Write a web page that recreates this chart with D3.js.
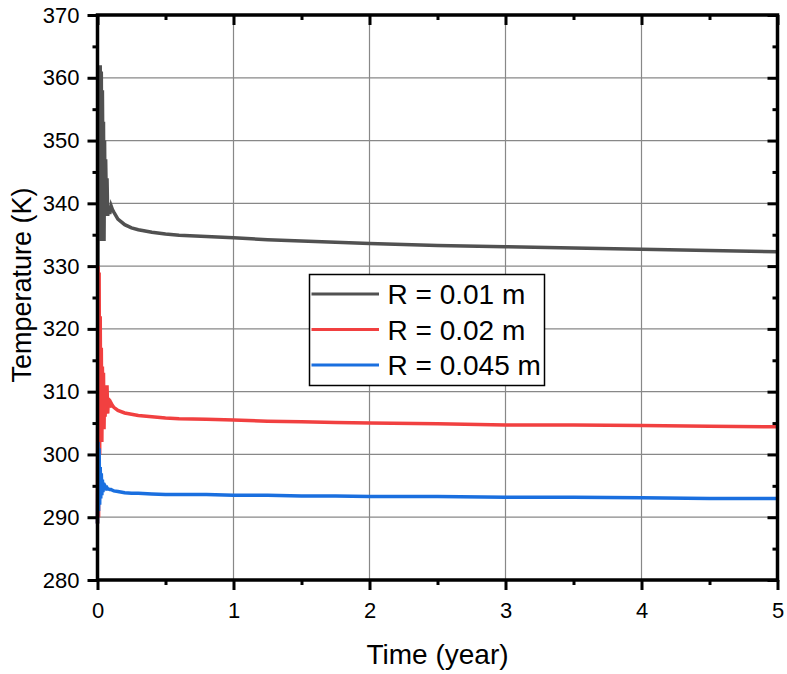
<!DOCTYPE html>
<html>
<head>
<meta charset="utf-8">
<script src="https://cdn.jsdelivr.net/npm/d3@7"></script>
<style>
  body { margin: 0; background: #fff; }
  text { font-family: "Liberation Sans", Arial, sans-serif; fill: #000; }
</style>
</head>
<body>
<div id="chart"></div>
<script>
// time in years
var times = [0, 0.004, 0.008, 0.012, 0.016, 0.02, 0.024, 0.028, 0.032, 0.036,
  0.04, 0.044, 0.048, 0.052, 0.056, 0.06, 0.065, 0.07, 0.075, 0.08,
  0.09, 0.1, 0.11, 0.12, 0.15, 0.2, 0.25, 0.3, 0.4, 0.5,
  0.6, 0.8, 1.0, 1.25, 1.5, 1.75, 2.0, 2.5, 3.0, 3.5,
  4.0, 4.5, 5.0];

var tempR001 = [289, 340, 334, 355, 336, 362, 341, 361, 334, 358,
  345, 353, 334, 350, 338, 347, 340, 344, 338, 339.5,
  338.3, 339.6, 339.0, 338.6, 337.5, 336.6, 336.1, 335.8, 335.4, 335.1,
  334.9, 334.7, 334.5, 334.2, 334.0, 333.8, 333.6, 333.3, 333.1, 332.9,
  332.7, 332.5, 332.3];

var tempR002 = [289, 330, 290, 329, 300, 322, 304, 317, 302, 314,
  305, 313, 304, 311, 306, 310, 307, 311, 306.5, 309,
  307.5, 308.2, 307.8, 307.5, 307.0, 306.6, 306.4, 306.2, 306.0, 305.8,
  305.7, 305.6, 305.5, 305.3, 305.2, 305.1, 305.0, 304.9, 304.7, 304.7,
  304.6, 304.5, 304.4];

var tempR0045 = [289, 302, 291, 301, 292, 298, 293, 297, 293.5, 296,
  294, 295.5, 294.3, 295, 294.5, 294.8, 294.6, 294.7, 294.5, 294.5,
  294.4, 294.4, 294.3, 294.2, 294.1, 293.9, 293.8, 293.8, 293.7, 293.6,
  293.6, 293.6, 293.5, 293.5, 293.4, 293.4, 293.3, 293.3, 293.2, 293.2,
  293.1, 293.0, 293.0];

var seriesNames = ["R = 0.01 m", "R = 0.02 m", "R = 0.045 m"];
var seriesColors = ["#515151", "#F14040", "#1A6FDF"];
var xTicks = [0, 1, 2, 3, 4, 5];
var yTicks = [280, 290, 300, 310, 320, 330, 340, 350, 360, 370];

var width = 787, height = 674;
var margin = {left: 97.5, right: 9.5, top: 15, bottom: 94};
var innerW = width - margin.left - margin.right,
    innerH = height - margin.top - margin.bottom;

var svg = d3.select("#chart").append("svg")
  .attr("width", width)
  .attr("height", height);

var g = svg.append("g")
  .attr("transform", "translate(" + margin.left + "," + margin.top + ")");

var x = d3.scaleLinear().domain([0, 5]).range([0, innerW]);
var y = d3.scaleLinear().domain([280, 370]).range([innerH, 0]);

// grid
g.append("g").selectAll("line.vg")
  .data(xTicks.slice(1, -1))
  .enter().append("line")
  .attr("x1", function(d) { return x(d); })
  .attr("x2", function(d) { return x(d); })
  .attr("y1", 0).attr("y2", innerH)
  .style("stroke", "#888").style("stroke-width", 1.2);
g.append("g").selectAll("line.hg")
  .data(yTicks.slice(1, -1))
  .enter().append("line")
  .attr("y1", function(d) { return y(d); })
  .attr("y2", function(d) { return y(d); })
  .attr("x1", 0).attr("x2", innerW)
  .style("stroke", "#888").style("stroke-width", 1.2);

// curves
var line = d3.line()
  .x(function(d) { return x(d[0]); })
  .y(function(d) { return y(d[1]); });

[tempR001, tempR002, tempR0045].forEach(function(vals, i) {
  g.append("path")
    .datum(times.map(function(t, k) { return [t, vals[k]]; }))
    .attr("d", line)
    .style("fill", "none")
    .style("stroke", seriesColors[i])
    .style("stroke-width", 3.5)
    .style("stroke-linejoin", "miter");
});

// axes
var xMinor = d3.range(1, 10, 2).map(function(v) { return v / 2; });
var yMinor = d3.range(285, 370, 10);

function styleAxis(sel) {
  sel.select(".domain").remove();
  sel.selectAll(".tick line").style("stroke", "#000").style("stroke-width", 3);
  sel.selectAll(".tick text").style("font-size", "22px")
    .style("font-family", "'Liberation Sans', Arial, sans-serif");
}

g.append("g").attr("transform", "translate(0," + innerH + ")")
  .call(d3.axisBottom(x).tickValues(xTicks).tickSize(10).tickPadding(12).tickFormat(d3.format("d")))
  .call(styleAxis);
g.append("g").attr("transform", "translate(0," + innerH + ")")
  .call(d3.axisBottom(x).tickValues(xMinor).tickSize(5).tickFormat(""))
  .call(styleAxis);

g.append("g")
  .call(d3.axisLeft(y).tickValues(yTicks).tickSize(10).tickPadding(8).tickFormat(d3.format("d")))
  .call(styleAxis);
g.append("g")
  .call(d3.axisLeft(y).tickValues(yMinor).tickSize(5).tickFormat(""))
  .call(styleAxis);

g.append("g")
  .call(d3.axisTop(x).tickValues(xTicks).tickSize(-10).tickFormat(""))
  .call(styleAxis);
g.append("g")
  .call(d3.axisTop(x).tickValues(xMinor).tickSize(-5).tickFormat(""))
  .call(styleAxis);

g.append("g").attr("transform", "translate(" + innerW + ",0)")
  .call(d3.axisRight(y).tickValues(yTicks).tickSize(-10).tickFormat(""))
  .call(styleAxis);
g.append("g").attr("transform", "translate(" + innerW + ",0)")
  .call(d3.axisRight(y).tickValues(yMinor).tickSize(-5).tickFormat(""))
  .call(styleAxis);

// frame
g.append("rect")
  .attr("width", innerW).attr("height", innerH)
  .style("fill", "none").style("stroke", "#000").style("stroke-width", 3.5);

// axis titles
svg.append("text")
  .attr("x", margin.left + innerW / 2)
  .attr("y", 664)
  .attr("text-anchor", "middle")
  .style("font-size", "28px")
  .text("Time (year)");

svg.append("text")
  .attr("transform", "translate(31," + 285 + ") rotate(-90)")
  .attr("text-anchor", "middle")
  .style("font-size", "27px")
  .text("Temperature (K)");

// legend
var legend = svg.append("g").attr("transform", "translate(309.5,274.5)");
legend.append("rect")
  .attr("width", 235).attr("height", 111)
  .style("fill", "#fff").style("stroke", "#000").style("stroke-width", 1.5);

seriesNames.forEach(function(name, i) {
  var ly = 19.5 + i * 35.5;
  legend.append("line")
    .attr("x1", 2).attr("x2", 69.5)
    .attr("y1", ly).attr("y2", ly)
    .style("stroke", seriesColors[i]).style("stroke-width", 3);
  legend.append("text")
    .attr("x", 78).attr("y", ly + 10)
    .style("font-size", "28px")
    .text(name);
});
</script>
</body>
</html>
